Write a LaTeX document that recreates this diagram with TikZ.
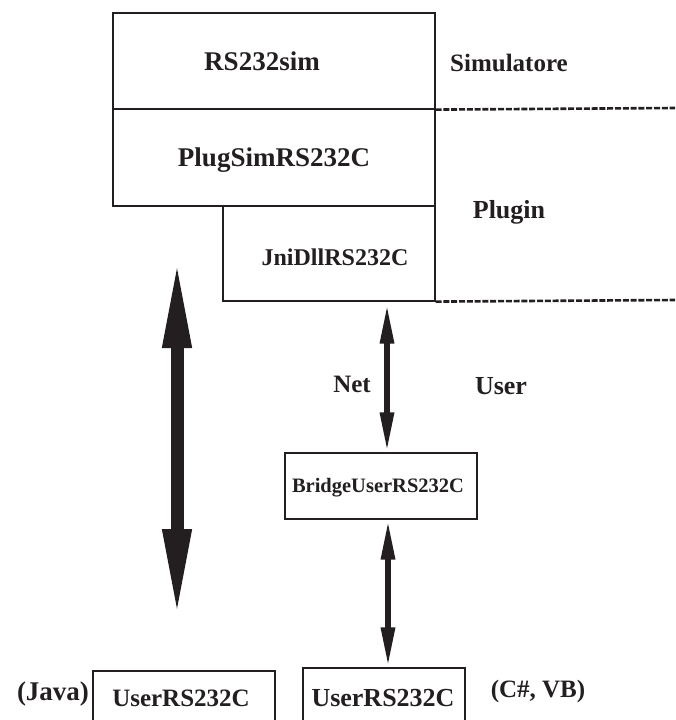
\documentclass[tikz,border=0pt]{standalone}
\usepackage{fontspec}
\setmainfont{Liberation Serif}
\usetikzlibrary{arrows.meta}
\definecolor{ink}{RGB}{35,31,32}
\begin{document}
\begin{tikzpicture}[x=1pt,y=-1pt,
  box/.style={draw=ink, line width=1.2pt, inner sep=0pt},
  lbl/.style={font=\bfseries\fontsize{#1}{#1}\selectfont, inner sep=0pt, text=ink},
  lbl/.default=26,
  sepline/.style={draw=ink, line width=2.6pt, dash pattern=on 6pt off 1.8pt},
  bigarrow/.style={draw=ink, line width=13pt, {Triangle[length=91pt,width=26pt]}-{Triangle[length=91pt,width=26pt]}},
  netarrow/.style={draw=ink, line width=6pt, {Triangle[length=40pt,width=13pt]}-{Triangle[length=40pt,width=13pt]}}]
\useasboundingbox (0,0) rectangle (675,720);
\clip (0,0) rectangle (675,720);

% boxes
\node[box, minimum width=322pt, minimum height=96pt] (rs) at (274,61) {};
\node[box, minimum width=322pt, minimum height=97pt] (plug) at (274,157.5) {};
\node[box, fill=white, minimum width=212pt, minimum height=95pt] (jni) at (329,253.5) {};
\node[box, minimum width=192pt, minimum height=66pt] (bridge) at (381,486) {};
\node[box, minimum width=162pt, minimum height=62pt] (userR) at (384,699) {};
\node[box, minimum width=182pt, minimum height=59pt] (userL) at (184,700.5) {};

% box texts
\node[lbl=27] (trs) at (262,61) {RS232sim};
\node[lbl=27] (tplug) at (274,160) {PlugSimRS232C};
\node[lbl=24] (tjni) at (335,257) {JniDllRS232C};
\node[lbl=20.5] (tbridge) at (378,488) {BridgeUserRS232C};
\node[lbl=26] (tuserR) at (383,698) {UserRS232C};
\node[lbl=25] (tuserL) at (181,698) {UserRS232C};

% side labels
\node[lbl=25] (simulatore) at (509,63) {Simulatore};
\node[lbl=26] (plugin) at (509,212) {Plugin};
\node[lbl=26] (user) at (501,386) {User};
\node[lbl=25] (net) at (352,384) {Net};
\node[lbl=27] (java) at (53,694) {(Java)};
\node[lbl=25] (csvb) at (538,691) {(C\#, VB)};

% dashed separators
\coordinate (d1) at (675,108);
\coordinate (d2) at (675,300);
\draw[sepline] (rs.south east) -- (d1);
\draw[sepline] (jni.south east) -- (d2);

% arrows
\coordinate (ax1) at (387,0);
\coordinate (ax2) at (388,0);
\draw[netarrow] ([yshift=-2pt]jni.south -| ax1) -- (bridge.north -| ax1);
\draw[netarrow] (bridge.south -| ax2) -- (userR.north -| ax2);

\coordinate (bigtop) at (177,257);
\coordinate (bigbot) at (177,620);
\draw[bigarrow] (bigtop) -- (bigbot);
\end{tikzpicture}
\end{document}
